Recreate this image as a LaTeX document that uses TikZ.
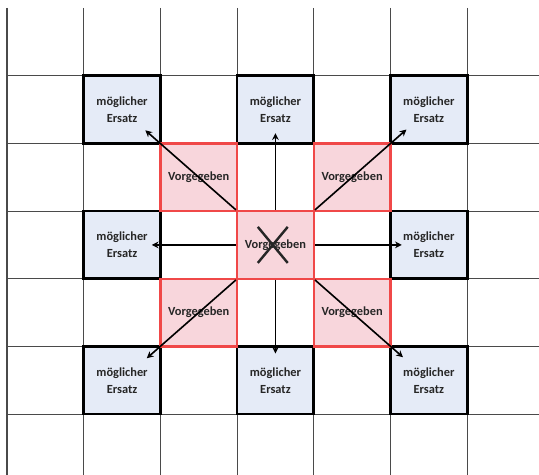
\documentclass[tikz,border=0pt]{standalone}
\usepackage{fontspec}
\setmainfont{Carlito}
\usepackage{xcolor}
\usetikzlibrary{arrows.meta}
\definecolor{kgrid}{HTML}{4A4A4A}
\definecolor{kersatz}{HTML}{E5EBF7}
\definecolor{kvorgabe}{HTML}{F8D6DC}
\definecolor{kred}{HTML}{F04848}
\tikzset{
  zelle/.style={rectangle, minimum width=2cm, minimum height=1.765cm, inner sep=0pt,
    font=\fontsize{9.2}{12.5}\selectfont\bfseries, text=black!85, align=center},
  ersatz/.style={zelle, fill=kersatz, draw=black, line width=2pt},
  vorgabe/.style={zelle, fill=kvorgabe, draw=kred, line width=1.8pt},
  pfeil/.style={-{Stealth[length=5pt, width=5pt]}, line width=1.2pt, shorten >=-0.3cm},
  kreuz/.style={line width=1.8pt, black!85},
}

\begin{document}
\begin{tikzpicture}[x=2cm, y=1.765cm]
  \useasboundingbox (-0.091,0.118) rectangle (6.936,-6.898);

  %% Raster
  \foreach \i in {0,...,6}{
    \draw[kgrid, line width=0.8pt] (\i,0) -- (\i,-6.898);
  }
  \foreach \j in {1,...,6}{
    \draw[kgrid, line width=0.8pt] (0,-\j) -- (6.936,-\j);
  }

  %% moegliche Ersatzfelder
  \foreach \i/\j in {1/1,3/1,5/1,1/3,5/3,1/5,3/5,5/5}{
    \node[ersatz] (e\i\j) at (\i+0.5,-\j-0.5) {m\"oglicher\\Ersatz};
  }

  %% vorgegebene Felder
  \foreach \i/\j in {2/2,4/2,2/4,4/4}{
    \node[vorgabe] (v\i\j) at (\i+0.5,-\j-0.5) {Vorgegeben};
  }
  \node[vorgabe] (mitte) at (3.5,-3.5) {Vorgegeben};
  \draw[kreuz] ([shift={(-0.46cm,-0.47cm)}]mitte.center) -- ([shift={(0.32cm,0.47cm)}]mitte.center);
  \draw[kreuz] ([shift={(-0.46cm,0.47cm)}]mitte.center) -- ([shift={(0.32cm,-0.47cm)}]mitte.center);

  %% Pfeile
  \draw[pfeil] (mitte.north) -- (e31.south);
  \draw[pfeil, shorten >=-0.22cm] (mitte.south) -- (e35.north);
  \draw[pfeil, shorten >=-0.26cm] (mitte.west) -- (e13.east);
  \draw[pfeil, shorten >=-0.33cm] (mitte.east) -- (e53.west);
  \draw[pfeil, shorten >=-0.57cm] (mitte.north west) -- (e11.south east);
  \draw[pfeil, shorten >=-0.6cm] (mitte.north east) -- (e51.south west);
  \draw[pfeil, shorten >=-0.52cm] (mitte.south west) -- (e15.north east);
  \draw[pfeil, shorten >=-0.48cm] (mitte.south east) -- (e55.north west);

\end{tikzpicture}
\end{document}
